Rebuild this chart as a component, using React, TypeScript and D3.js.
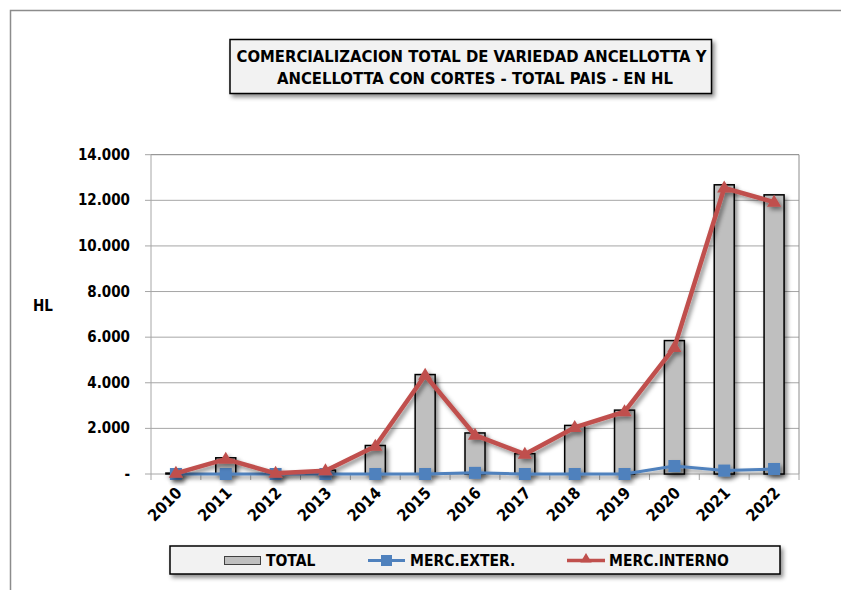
import React from "react";
import * as d3 from "d3";

const years = ["2010","2011","2012","2013","2014","2015","2016","2017","2018","2019","2020","2021","2022"];
const total = [40, 710, 30, 170, 1250, 4360, 1800, 890, 2130, 2800, 5850, 12680, 12240];
const mercExter = [0, 0, 0, 0, 0, 0, 50, 0, 0, 0, 350, 150, 220];
const mercInterno = [30, 650, 30, 140, 1220, 4330, 1700, 870, 2040, 2730, 5550, 12540, 11920];
const yTicks = [0, 2000, 4000, 6000, 8000, 10000, 12000, 14000];
const titleLines = ["COMERCIALIZACION TOTAL DE VARIEDAD ANCELLOTTA Y", "ANCELLOTTA CON CORTES - TOTAL PAIS - EN HL"];

const FONT = "'Liberation Sans Narrow', 'DejaVu Sans Condensed', 'Liberation Sans', sans-serif";

export default function App() {
  const W = 841, H = 590;
  const left = 151, right = 799, top = 154.7, bottom = 474;
  const x = d3.scaleBand<string>().domain(years).range([left, right]).paddingInner(0).paddingOuter(0);
  const y = d3.scaleLinear().domain([0, 14000]).range([bottom, top]);
  const bw = 20;
  const cx = (i: number) => (x(years[i]) as number) + x.bandwidth() / 2;
  const line = d3.line<number>().x((_, i) => cx(i)).y((d) => y(d));
  const fmt = (v: number) => (v === 0 ? "-" : d3.format(",")(v).replace(/,/g, "."));
  const tri = (px: number, py: number, s: number) =>
    `M${px},${py - s}L${px + s * 0.95},${py + s * 0.6}L${px - s * 0.95},${py + s * 0.6}Z`;

  return (
    <svg width={W} height={H} style={{ position: "absolute", left: 0, top: 0, background: "#fff" }}>
      <defs>
        <filter id="sh" x="-30%" y="-30%" width="160%" height="160%">
          <feDropShadow dx="2.5" dy="3" stdDeviation="2" floodColor="#000" floodOpacity="0.45" />
        </filter>
      </defs>
      <rect x={0} y={0} width={W} height={H} fill="#fff" />
      {/* outer border */}
      <path d={`M10.5,${H}V10.5H${W}`} fill="none" stroke="#8c8c8c" strokeWidth={1.5} />

      {/* title */}
      <rect x={230} y={39.5} width={481.5} height={54} fill="#f2f2f2" stroke="#000" strokeWidth={1.5} filter="url(#sh)" />
      <text x={471.5} y={61.5} textAnchor="middle" fontFamily={FONT} fontWeight="bold" fontSize={16.5} fill="#000"
        textLength={470} lengthAdjust="spacingAndGlyphs">{titleLines[0]}</text>
      <text x={475} y={84} textAnchor="middle" fontFamily={FONT} fontWeight="bold" fontSize={16.5} fill="#000"
        textLength={396} lengthAdjust="spacingAndGlyphs">{titleLines[1]}</text>

      {/* gridlines */}
      {yTicks.map((t) => (
        <g key={t}>
          {t > 0 && <line x1={left} x2={right} y1={y(t)} y2={y(t)} stroke={t === 14000 ? "#7f7f7f" : "#a6a6a6"} strokeWidth={1} />}
          <line x1={left - 6} x2={left} y1={y(t)} y2={y(t)} stroke="#a6a6a6" />
          <text x={130} y={y(t) + 5} textAnchor="end" fontFamily={FONT} fontWeight="bold" fontSize={15} fill="#000">{fmt(t)}</text>
        </g>
      ))}
      <line x1={right} x2={right} y1={top} y2={bottom} stroke="#8c8c8c" />
      <line x1={left} x2={left} y1={top} y2={bottom + 6} stroke="#a6a6a6" />
      <line x1={left} x2={right} y1={bottom} y2={bottom} stroke="#a6a6a6" />
      {years.map((yr, i) => (
        <line key={yr} x1={(x(yr) as number) + x.bandwidth()} x2={(x(yr) as number) + x.bandwidth()} y1={bottom} y2={bottom + 6} stroke="#a6a6a6" />
      ))}

      <text x={43} y={311} textAnchor="middle" fontFamily={FONT} fontWeight="bold" fontSize={15} fill="#000">HL</text>

      {/* bars */}
      <g filter="url(#sh)">
        {total.map((v, i) => (
          <rect key={i} x={cx(i) - bw / 2} y={y(v)} width={bw} height={bottom - y(v)} fill="#bfbfbf" stroke="#000" strokeWidth={1.5} />
        ))}
      </g>

      {/* blue line */}
      <g filter="url(#sh)">
        <path d={line(mercExter) as string} fill="none" stroke="#4f81bd" strokeWidth={3} strokeLinejoin="round" />
        {mercExter.map((v, i) => (
          <rect key={i} x={cx(i) - 6} y={y(v) - 6} width={12} height={12} fill="#4f81bd" />
        ))}
      </g>

      {/* red line */}
      <g filter="url(#sh)">
        <path d={line(mercInterno) as string} fill="none" stroke="#c0504d" strokeWidth={4.5} strokeLinejoin="round" />
        {mercInterno.map((v, i) => (
          <path key={i} d={tri(cx(i), y(v), 7.5)} fill="#c0504d" />
        ))}
      </g>

      {/* x labels */}
      {years.map((yr, i) => (
        <text key={yr} transform={`translate(${cx(i) + 7},${bottom + 20}) rotate(-45)`} textAnchor="end"
          fontFamily={FONT} fontWeight="bold" fontSize={16} fill="#000">{yr}</text>
      ))}

      {/* legend */}
      <rect x={170} y={546} width={610} height={28} fill="#f2f2f2" stroke="#000" strokeWidth={1.5} filter="url(#sh)" />
      <rect x={224.5} y={556.5} width={36} height={8} fill="#bfbfbf" stroke="#404040" strokeWidth={1} />
      <text x={266} y={566} fontFamily={FONT} fontWeight="bold" fontSize={15.5} fill="#000">TOTAL</text>
      <line x1={368} x2={405} y1={560.5} y2={560.5} stroke="#4f81bd" strokeWidth={3} />
      <rect x={381} y={555} width={11} height={11} fill="#4f81bd" />
      <text x={410} y={566} fontFamily={FONT} fontWeight="bold" fontSize={15.5} fill="#000">MERC.EXTER.</text>
      <line x1={567} x2={605} y1={560.5} y2={560.5} stroke="#c0504d" strokeWidth={3.5} />
      <path d={tri(586, 559, 6)} fill="#c0504d" />
      <text x={609} y={566} fontFamily={FONT} fontWeight="bold" fontSize={15.5} fill="#000">MERC.INTERNO</text>
    </svg>
  );
}
